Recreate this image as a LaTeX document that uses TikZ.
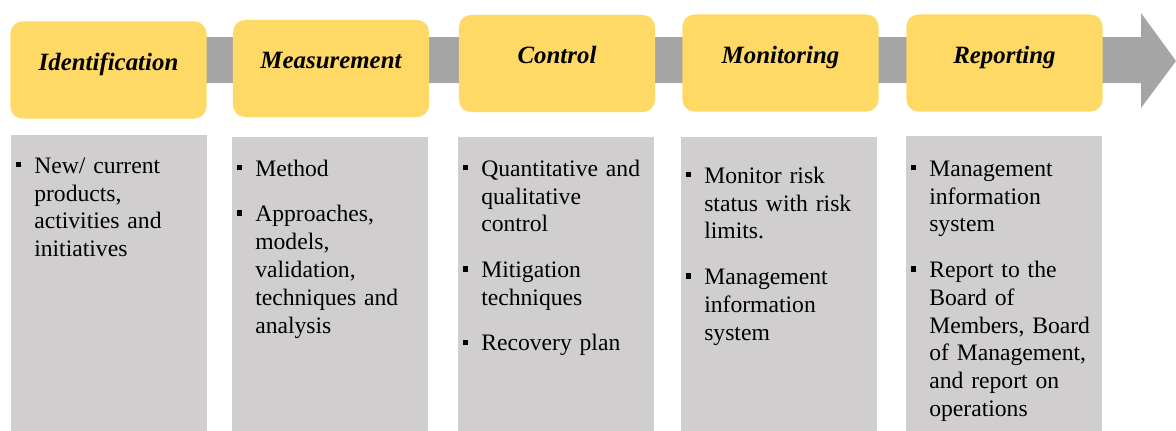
\documentclass[tikz,border=0pt]{standalone}
\usepackage{fontspec}
\setmainfont{Liberation Serif}
\usepackage{tikz}
\definecolor{stageyellow}{HTML}{FFD966}
\definecolor{bandgray}{HTML}{A5A5A5}
\definecolor{notegray}{HTML}{D0CECE}
% small square bullet hung left of the text
\newcommand{\sqbul}{\leavevmode\llap{\rule[4.2pt]{3.8pt}{3.8pt}\hspace{9.2pt}}}

\tikzset{
  stagebox/.style={rectangle, rounded corners=0.3cm, fill=stageyellow,
    minimum width=4.9cm, minimum height=2.425cm, inner sep=0pt,
    text height=0.3cm, text depth=0.3cm,
    font=\fontsize{17.7}{20}\selectfont\bfseries\itshape},
  notebox/.style={rectangle, fill=notegray, anchor=north west,
    minimum width=4.9cm, minimum height=7.5cm, inner sep=0pt},
  notetext/.style={anchor=north west, inner sep=0pt, text width=4.6cm,
    align=left, font=\fontsize{16.8}{19.8}\selectfont}
}

\begin{document}
\begin{tikzpicture}[x=0.025cm, y=-0.025cm]
    \useasboundingbox (0,0) rectangle (1176,430);

    % grey band with arrow head
    \fill[bandgray] (100,37) -- (1141,37) -- (1141,13) -- (1176,61)
      -- (1141,108) -- (1141,83) -- (100,83) -- cycle;

    % stages
    \node[stagebox] (ident)   at (108.5,70)  {Identification};
    \node[stagebox] (measure) at (331,68.5)  {Measurement};
    \node[stagebox] (control) at (557,63.5)  {Control};
    \node[stagebox] (monitor) at (780.5,63)  {Monitoring};
    \node[stagebox] (report)  at (1004.5,63) {Reporting};

    % grey columns
    \node[notebox] (identbox)   at (11,135)  {};
    \node[notebox] (measurebox) at (232,137) {};
    \node[notebox] (controlbox) at (458,137) {};
    \node[notebox] (monitorbox) at (681,137) {};
    \node[notebox] (reportbox)  at (906,136) {};

    \node[notetext] (identtxt) at (34,153.4)
      {\sqbul\strut New/ current\\products,\\activities and\\initiatives};
    \node[notetext] (measuretxt) at (255,156.4)
      {\sqbul\strut Method\\[12.6pt]
       \sqbul Approaches,\\models,\\validation,\\techniques and\\analysis};
    \node[notetext] (controltxt) at (481,156.4)
      {\sqbul\strut Quantitative and\\qualitative\\control\\[12.6pt]
       \sqbul Mitigation\\techniques\\[12.6pt]
       \sqbul Recovery plan};
    \node[notetext] (monitortxt) at (704,163.4)
      {\sqbul\strut Monitor risk\\status with risk\\limits.\\[12.6pt]
       \sqbul Management\\information\\system};
    \node[notetext] (reporttxt) at (929,156.4)
      {\sqbul\strut Management\\information\\system\\[12.6pt]
       \sqbul Report to the\\Board of\\Members, Board\\of Management,\\and report on\\operations};
  \end{tikzpicture}
\end{document}
